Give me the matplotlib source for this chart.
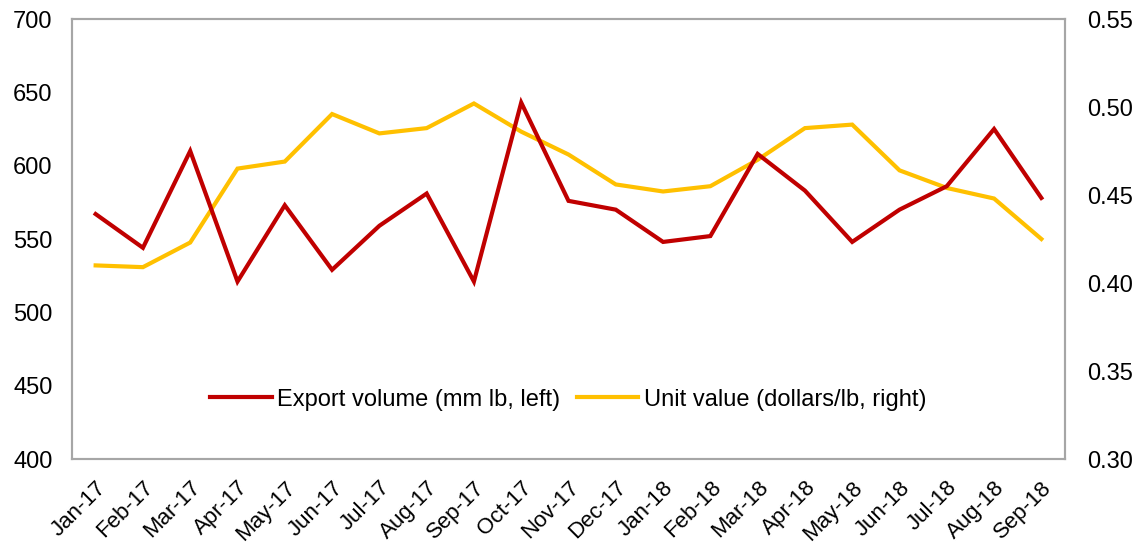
import matplotlib
matplotlib.use("Agg")
import matplotlib.pyplot as plt

plt.rcParams['font.family'] = ['Liberation Sans', 'DejaVu Sans']

months = ["Jan-17", "Feb-17", "Mar-17", "Apr-17", "May-17", "Jun-17", "Jul-17",
          "Aug-17", "Sep-17", "Oct-17", "Nov-17", "Dec-17", "Jan-18", "Feb-18",
          "Mar-18", "Apr-18", "May-18", "Jun-18", "Jul-18", "Aug-18", "Sep-18"]
export_volume = [567, 544, 610, 521, 573, 529, 559, 581, 521, 643, 576, 570,
                 548, 552, 608, 583, 548, 570, 586, 625, 578]
unit_value = [0.410, 0.409, 0.423, 0.465, 0.469, 0.496, 0.485, 0.488, 0.502,
              0.486, 0.473, 0.456, 0.452, 0.455, 0.470, 0.488, 0.490, 0.464,
              0.454, 0.448, 0.425]
left_ticks = [400, 450, 500, 550, 600, 650, 700]
right_ticks = [0.30, 0.35, 0.40, 0.45, 0.50, 0.55]

RED = "#C00000"
YELLOW = "#FFC000"
GRID = "#A6A6A6"

fig = plt.figure(figsize=(11.36, 5.44), dpi=100)
ax = fig.add_axes([72 / 1136, 1 - 459 / 544, (1065 - 72) / 1136, (459 - 19) / 544])
ax2 = ax.twinx()

x = list(range(len(months)))
l1, = ax.plot(x, export_volume, color=RED, lw=3, solid_joinstyle='miter', zorder=3)
l2, = ax2.plot(x, unit_value, color=YELLOW, lw=3, solid_joinstyle='miter', zorder=2)
ax.set_zorder(ax2.get_zorder() + 1)
ax.patch.set_visible(False)

ax.set_xlim(-0.5, len(months) - 0.5)
ax.set_ylim(400, 700)
ax2.set_ylim(0.30, 0.55)
ax.set_yticks(left_ticks)
ax.set_yticklabels([str(v) for v in left_ticks])
ax2.set_yticks(right_ticks)
ax2.set_yticklabels([f"{v:.2f}" for v in right_ticks])
ax.set_xticks(x)
ax.set_xticklabels(months, rotation=45, ha='right', rotation_mode='anchor', fontsize=16)

ax.tick_params(axis='y', length=0, labelsize=17, pad=14)
ax2.tick_params(axis='y', length=0, labelsize=17, pad=16)
ax.tick_params(axis='x', length=0, pad=13)

for a in (ax, ax2):
    for s in a.spines.values():
        s.set_color(GRID)
        s.set_linewidth(1.5)

ax.legend([l1, l2], ["Export volume (mm lb, left)", "Unit value (dollars/lb, right)"],
          loc='center', bbox_to_anchor=(0.5, 0.135), ncol=2, frameon=False,
          fontsize=17, handlelength=2.6, handletextpad=0.25, columnspacing=0.7)

fig.savefig("out.png", dpi=100)
